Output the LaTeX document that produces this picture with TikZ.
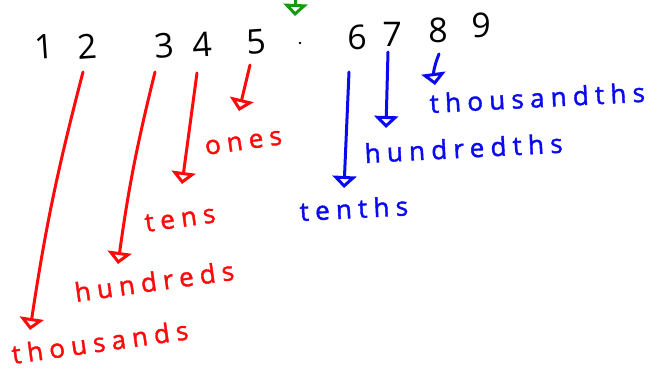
\documentclass[tikz,border=0pt]{standalone}
\usepackage{fontspec}
\setmainfont{Open Sans}
\newfontfamily\handfont[LetterSpace=24,FakeBold=1.5]{Open Sans}
\newfontfamily\digitfont{Open Sans}
\usetikzlibrary{arrows.meta}
\definecolor{penred}{HTML}{FF0A0A}
\definecolor{penblue}{HTML}{0A0AF0}
\definecolor{pengreen}{HTML}{139A13}
\begin{document}
\begin{tikzpicture}[x=1pt,y=-1pt,
  digit/.style={font=\digitfont\fontsize{34}{34}\selectfont, inner sep=0pt, anchor=base},
  lbl/.style={font=\handfont\fontsize{26}{26}\selectfont, inner sep=0pt, anchor=base west},
  pen/.style={line width=3pt, line cap=round, line join=round,
    -{Triangle[open,length=12pt,width=24pt]}},
]
\useasboundingbox (0,0) rectangle (658,372);

% the number 12 345 . 6789
\node[digit, rotate=4] (d1) at (45,59) {1};
\node[digit, rotate=4] (d2) at (88,59) {2};
\node[digit, rotate=4] (d3) at (165,58) {3};
\node[digit, rotate=4] (d4) at (203,57) {4};
\node[digit, rotate=4] (d5) at (257,54) {5};
\node[circle, fill=black, inner sep=0.9pt] (pt) at (300,43) {};
\node[digit] (d6) at (357,49) {6};
\node[digit] (d7) at (392,46) {7};
\node[digit] (d8) at (438,42) {8};
\node[digit] (d9) at (481,37) {9};

% marker above the decimal point
\coordinate (gtop) at (296,-8);
\coordinate (gend) at (295,16);
\draw[pen, pengreen] (gtop) -- (gend);

% whole-number places
\coordinate (s1) at (83,72);   \coordinate (e1) at (30,330);
\coordinate (s3) at (155,72);  \coordinate (e3) at (118,264);
\coordinate (s4) at (197,73);  \coordinate (e4) at (182,184);
\coordinate (s5) at (250,65);  \coordinate (e5) at (239,111);
\draw[pen, penred] (s1) to[bend right=3] (e1);
\draw[pen, penred] (s3) to[bend right=3] (e3);
\draw[pen, penred] (s4) -- (e4);
\draw[pen, penred] (s5) -- (e5);

\node[lbl, penred, rotate=8] (ones) at (206,155) {ones};
\node[lbl, penred, rotate=8] (tens) at (146,232) {tens};
\node[lbl, penred, rotate=8] (hund) at (76,302) {hundreds};
\node[lbl, penred, rotate=8] (thou) at (13,364) {thousands};

% decimal places
\coordinate (s6) at (349,72);  \coordinate (e6) at (344,188);
\coordinate (s7) at (388,52);  \coordinate (e7) at (386,128);
\coordinate (s8) at (439,54);  \coordinate (e8) at (435,85);
\draw[pen, penblue] (s6) -- (e6);
\draw[pen, penblue] (s7) -- (e7);
\draw[pen, penblue] (s8) to[bend right=15] (e8);

\node[lbl, penblue, rotate=3] (tnth) at (300,221) {tenths};
\node[lbl, penblue, rotate=3] (hnth) at (365,163) {hundredths};
\node[lbl, penblue, rotate=3] (thth) at (430,113) {thousandths};
\end{tikzpicture}
\end{document}
